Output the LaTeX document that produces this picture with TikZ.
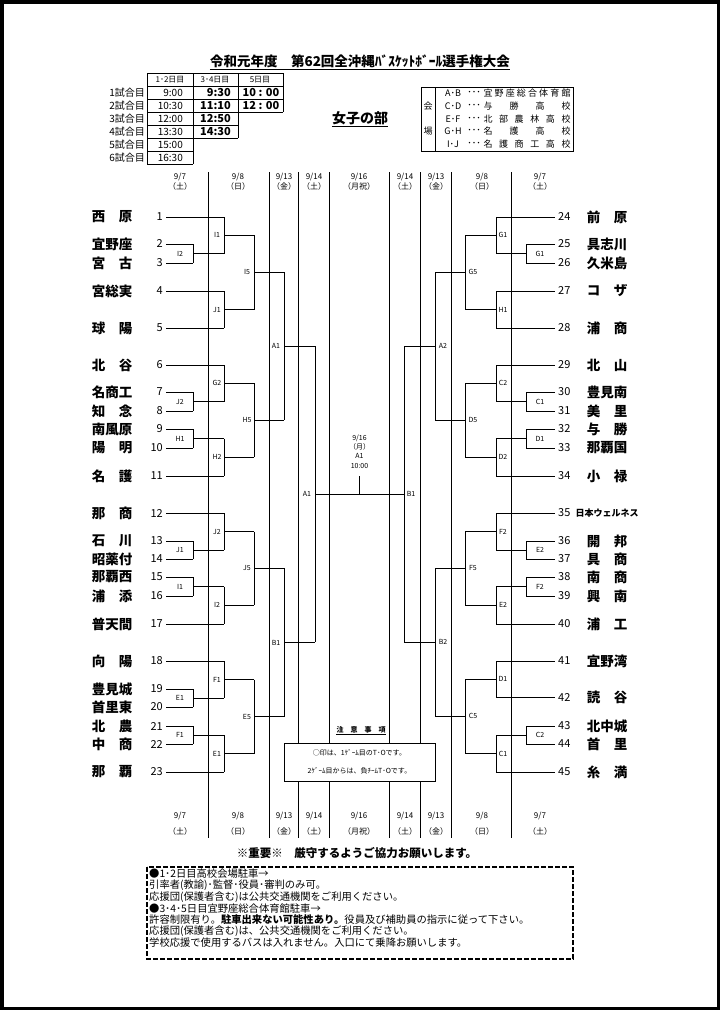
\documentclass[tikz,border=0pt]{standalone}
\usepackage{fontspec}
\setmainfont{Noto Sans CJK JP}
\newcommand\brk[6]{%
  \pgfmathsetmacro\ym{(#2+#3)/2}%
  \draw[ln] (#1,#2) -- (#1,#3);
  \draw[ln] (#1,\ym) -- (#4,\ym);
  \node[lab] at (#6,\ym) {#5};
}
\tikzset{
  ln/.style={line width=1pt},
  thin/.style={line width=0.8pt},
  nm/.style={font=\bfseries\fontsize{13.5}{13.5}\selectfont, inner sep=0pt},
  num/.style={font=\fontsize{11}{11}\selectfont, inner sep=0pt},
  lab/.style={font=\fontsize{7}{7}\selectfont, inner sep=0pt},
  dt/.style={font=\fontsize{8}{8}\selectfont, inner sep=0pt},
  tb/.style={font=\fontsize{10}{10}\selectfont, inner sep=0pt},
  tbb/.style={font=\bfseries\fontsize{11}{11}\selectfont, inner sep=0pt},
  vn/.style={font=\fontsize{9}{9}\selectfont, inner sep=0pt},
  nt/.style={font=\fontsize{10.3}{10.3}\selectfont, inner sep=0pt, anchor=west},
}
\begin{document}
\begin{tikzpicture}[x=1pt,y=-1pt]
\useasboundingbox (0,0) rectangle (720,1010);
\fill[white] (0,0) rectangle (720,1010);
\draw[line width=7pt] (0,0) rectangle (720,1010);

% title
\node[font=\bfseries\fontsize{13.5}{14}\selectfont, inner sep=0pt] (title) at (360,61) {令和元年度　第62回全沖縄ﾊﾞｽｹｯﾄﾎﾞｰﾙ選手権大会};
\draw[thin] ([yshift=-1.5pt]title.south west) -- ([yshift=-1.5pt]title.south east);

% schedule table
\foreach \y in {73,86,99,112,125,138,151,164} \draw[thin] (147,\y) -- (193,\y);
\foreach \y in {73,86,99,112,125,138} \draw[thin] (193,\y) -- (238,\y);
\foreach \y in {73,86,99,112} \draw[thin] (238,\y) -- (283,\y);
\draw[thin] (147,73) -- (147,164) (193,73) -- (193,164) (238,73) -- (238,138) (283,73) -- (283,112);
\node[dt] (h1) at (170,79.5) {1･2日目};
\node[dt] (h2) at (215,79.5) {3･4日目};
\node[dt] (h3) at (260,79.5) {5日目};
\foreach \i/\y/\t in {1/92.5/9:00,2/105.5/10:30,3/118.5/12:00,4/131.5/13:30,5/144.5/15:00,6/157.5/16:30}{
  \node[tb, anchor=east] (g\i) at (145,\y) {\i{}試合目};
  \node[tb, anchor=east] (c\i) at (183,\y) {\t};
}
\foreach \i/\y/\t in {1/92.5/9:30,2/105.5/11:10,3/118.5/12:50,4/131.5/14:30}
  \node[tbb, anchor=east] (d\i) at (231,\y) {\t};
\node[tbb] (e1) at (261,92.5) {10 : 00};
\node[tbb] (e2) at (261,105.5) {12 : 00};

% division
\node[font=\bfseries\fontsize{14}{14}\selectfont, inner sep=0pt] (div) at (360,118) {女子の部};
\draw[thin] ([yshift=-1.5pt]div.south west) -- ([yshift=-1.5pt]div.south east);

% venue box
\draw[thin] (421,87) rectangle (573,151);
\draw[thin] (435,87) -- (435,151);
\node[vn] (kai) at (428,106) {会};
\node[vn] (jo) at (428,131) {場};
\foreach \y/\l in {93/A･B,106/C･D,119/E･F,131/G･H,144/I･J}{
  \node[vn] at (453,\y) {\l};
  \node[vn] at (474,\y) {･･･};
}
\foreach \c [count=\k from 0] in {宜,野,座,総,合,体,育,館} \node[vn] at (488+\k*11.143,93) {\c};
\foreach \c [count=\k from 0] in {与,勝,高,校} \node[vn] at (488+\k*26,106) {\c};
\foreach \c [count=\k from 0] in {北,部,農,林,高,校} \node[vn] at (488+\k*15.6,119) {\c};
\foreach \c [count=\k from 0] in {名,護,高,校} \node[vn] at (488+\k*26,131) {\c};
\foreach \c [count=\k from 0] in {名,護,商,工,高,校} \node[vn] at (488+\k*15.6,144) {\c};

% day lines
\foreach \x in {208,269,298,329,389,420,451,511} \draw[ln] (\x,172) -- (\x,838);

% dates
\foreach \x/\d/\w in {180/{9/7}/（土）,238/{9/8}/（日）,284/{9/13}/（金）,314/{9/14}/（土）,359/{9/16}/（月祝）,405/{9/14}/（土）,436/{9/13}/（金）,482/{9/8}/（日）,540/{9/7}/（土）}{
  \node[dt] at (\x,177) {\d};
  \node[dt] at (\x,186) {\w};
  \node[dt] at (\x,816) {\d};
  \node[dt] at (\x,831) {\w};
}

% left teams
\foreach \n/\y/\nm/\xe in {1/217/西　原/224,2/244/宜野座/193,3/263/宮　古/193,4/291/宮総実/224,5/328/球　陽/224,6/365/北　谷/224,7/392/名商工/193,8/411/知　念/193,9/429/南風原/193,10/448/陽　明/193,11/476/名　護/224,12/513/那　商/224,13/541/石　川/193,14/559/昭薬付/193,15/577/那覇西/193,16/596/浦　添/193,17/624/普天間/224,18/661/向　陽/224,19/689/豊見城/193,20/707/首里東/193,21/726/北　農/193,22/744/中　商/193,23/772/那　覇/224}{
  \node[nm] (tn\n) at (112,\y) {\nm};
  \node[num, anchor=east] (t\n) at (163,\y) {\n};
  \draw[ln] ([xshift=3pt]t\n.east) -- (\xe,\y);
}
% right teams
\foreach \n/\y/\nm/\xe in {24/217/前　原/496,25/244/具志川/526,26/263/久米島/526,27/291/コ　ザ/496,28/328/浦　商/496,29/365/北　山/496,30/392/豊見南/526,31/411/美　里/526,32/429/与　勝/526,33/448/那覇国/526,34/476/小　禄/496,36/541/開　邦/526,37/559/具　商/526,38/577/南　商/526,39/596/興　南/526,40/624/浦　工/496,41/661/宜野湾/496,42/697/読　谷/496,43/726/北中城/526,44/744/首　里/526,45/772/糸　満/496}{
  \node[nm] (tn\n) at (607,\y) {\nm};
  \node[num, anchor=west] (t\n) at (558,\y) {\n};
  \draw[ln] (\xe,\y) -- ([xshift=-3pt]t\n.west);
}
\node[font=\bfseries\fontsize{9}{9}\selectfont, inner sep=0pt] (tn35) at (607,513) {日本ウェルネス};
\node[num, anchor=west] (t35) at (558,513) {35};
\draw[ln] (496,513) -- ([xshift=-3pt]t35.west);

% left brackets
\foreach \a/\b/\c/\d/\e/\f in {
 193/244/263/224/I2/180, 193/392/411/224/J2/180, 193/429/448/224/H1/180, 193/541/559/224/J1/180,
 193/577/596/224/I1/180, 193/689/707/224/E1/180, 193/726/744/224/F1/180,
 224/217/253.5/254/I1/217, 224/291/328/254/J1/217, 224/365/401.5/254/G2/217, 224/438.5/476/254/H2/217,
 224/513/550/254/J2/217, 224/586.5/624/254/I2/217, 224/661/698/254/F1/217, 224/735/772/254/E1/217,
 254/235.25/309.5/284/I5/247, 254/383.25/457.25/284/H5/247, 254/531.5/605.25/284/J5/247, 254/679.5/753.5/284/E5/247,
 284/272.375/420.25/315/A1/276, 284/568.375/716.5/315/B1/276,
 315/346.3/642.4/359.5/A1/307}
 \brk{\a}{\b}{\c}{\d}{\e}{\f};
% right brackets
\foreach \a/\b/\c/\d/\e/\f in {
 526/244/263/496/G1/540, 526/392/411/496/C1/540, 526/429/448/496/D1/540, 526/541/559/496/E2/540,
 526/577/596/496/F2/540, 526/726/744/496/C2/540,
 496/217/253.5/465/G1/503, 496/291/328/465/H1/503, 496/365/401.5/465/C2/503, 496/438.5/476/465/D2/503,
 496/513/550/465/F2/503, 496/586.5/624/465/E2/503, 496/661/697/465/D1/503, 496/735/772/465/C1/503,
 465/235.25/309.5/435/G5/473, 465/383.25/457.25/435/D5/473, 465/531.5/605.25/435/F5/473, 465/679/753.5/435/C5/473,
 435/272.375/420.25/404/A2/443, 435/568.375/716.25/404/B2/443,
 404/346.3/642.3/359.5/B1/411}
 \brk{\a}{\b}{\c}{\d}{\e}{\f};

% final
\coordinate (fin) at (359.5,494.4);
\coordinate (fintop) at (359.5,476);
\draw[ln] (fin) -- (fintop);
\node[lab] (f1) at (359.5,438) {9/16};
\node[lab] (f2) at (359.5,447) {（月）};
\node[lab] (f3) at (359.5,456) {A1};
\node[lab] (f4) at (359.5,466) {10:00};

% notes box
\node[font=\bfseries\fontsize{7}{7}\selectfont, inner sep=0pt] (chu) at (361,730) {注　意　事　項};
\draw[line width=0.6pt] ([yshift=-1.2pt]chu.south west) -- ([yshift=-1.2pt]chu.south east);
\node[draw, line width=1pt, fill=white, minimum width=151pt, minimum height=38pt, inner sep=0pt] (nb) at (359.5,762) {};
\node[lab] (nb1) at (359.5,753) {○印は、1ｹﾞｰﾑ目のT･Oです。};
\node[lab] (nb2) at (359.5,771) {2ｹﾞｰﾑ目からは、負ﾁｰﾑT･Oです。};

% bottom notice
\node[font=\bfseries\fontsize{11.5}{12}\selectfont, inner sep=0pt] (imp) at (357,853) {※重要※　厳守するようご協力お願いします。};
\draw[line width=2pt, dash pattern=on 5pt off 2pt] (147,867) rectangle (573,959);
\node[nt] (l1) at (149,874) {●1･2日目高校会場駐車→};
\node[nt] (l2) at (149,885.5) {引率者(教諭)･監督･役員･審判のみ可。};
\node[nt] (l3) at (149,897) {応援団(保護者含む)は公共交通機関をご利用ください。};
\node[nt] (l4) at (149,908.5) {●3･4･5日目宜野座総合体育館駐車→};
\node[nt] (l5) at (149,920) {許容制限有り。\textbf{駐車出来ない可能性あり。}役員及び補助員の指示に従って下さい。};
\node[nt] (l6) at (149,931.5) {応援団(保護者含む)は、公共交通機関をご利用ください。};
\node[nt] (l7) at (149,943) {学校応援で使用するバスは入れません。入口にて乗降お願いします。};
\end{tikzpicture}
\end{document}
